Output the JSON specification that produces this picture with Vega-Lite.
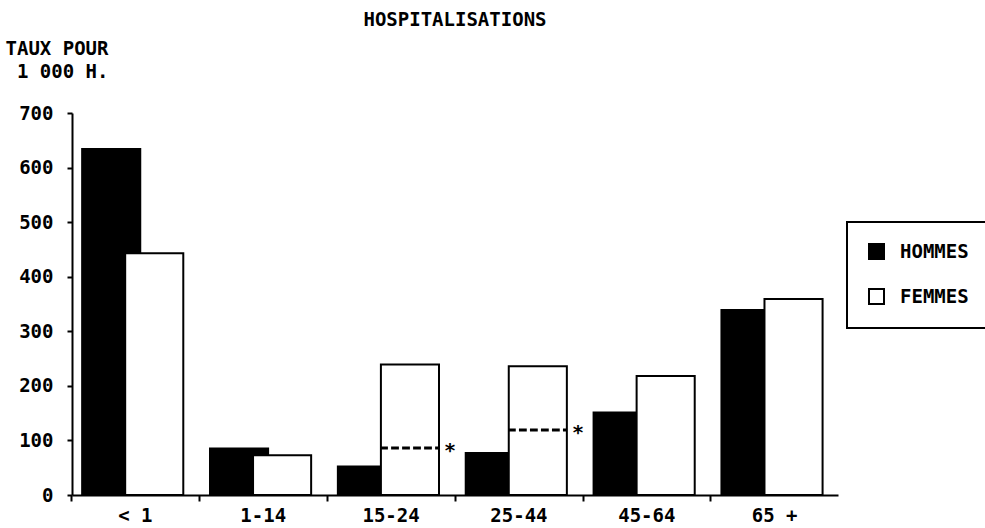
{
  "$schema": "https://vega.github.io/schema/vega-lite/v6.json",
  "autosize": "none",
  "width": 766,
  "height": 382,
  "padding": {"left": 72, "top": 113, "right": 147, "bottom": 33},
  "background": "white",
  "config": {
    "font": "DejaVu Sans Mono",
    "view": {"stroke": null},
    "axis": {"labelFont": "DejaVu Sans Mono", "labelFontWeight": "bold", "labelColor": "black", "labelFontSize": 19, "titleFont": "DejaVu Sans Mono", "titleColor": "black", "domainColor": "black", "tickColor": "black", "grid": false},
    "legend": {"strokeColor": "black", "strokeWidth": 2}
  },
  "title": {"text": "HOSPITALISATIONS", "anchor": "middle", "frame": "group", "font": "DejaVu Sans Mono", "fontSize": 19, "fontWeight": "bold", "color": "black", "offset": 9},
  "datasets": {
    "taux": [
      {"groupe": "< 1", "sexe": "HOMMES", "taux": 634},
      {"groupe": "< 1", "sexe": "FEMMES", "taux": 443},
      {"groupe": "1-14", "sexe": "HOMMES", "taux": 85},
      {"groupe": "1-14", "sexe": "FEMMES", "taux": 73},
      {"groupe": "15-24", "sexe": "HOMMES", "taux": 52},
      {"groupe": "15-24", "sexe": "FEMMES", "taux": 239},
      {"groupe": "25-44", "sexe": "HOMMES", "taux": 77},
      {"groupe": "25-44", "sexe": "FEMMES", "taux": 236},
      {"groupe": "45-64", "sexe": "HOMMES", "taux": 151},
      {"groupe": "45-64", "sexe": "FEMMES", "taux": 218},
      {"groupe": "65 +", "sexe": "HOMMES", "taux": 339},
      {"groupe": "65 +", "sexe": "FEMMES", "taux": 359}
    ],
    "marques": [
      {"groupe": "15-24", "sexe": "FEMMES", "marque": 86},
      {"groupe": "25-44", "sexe": "FEMMES", "marque": 119}
    ]
  },
  "layer": [
    {
      "data": {"name": "taux"},
      "mark": {"type": "bar", "stroke": "black", "strokeWidth": 2, "width": {"band": 1.35}},
      "encoding": {
        "x": {"field": "groupe", "type": "nominal", "sort": ["< 1", "1-14", "15-24", "25-44", "45-64", "65 +"],
          "scale": {"paddingInner": 0.209, "paddingOuter": 0.1},
          "axis": {"title": null, "labelAngle": 0, "bandPosition": -0.13, "ticks": true, "tickSize": 6, "tickWidth": 2, "domainWidth": 2, "labelPadding": 5, "labelBaseline": "top"}},
        "xOffset": {"field": "sexe", "type": "nominal", "sort": ["HOMMES", "FEMMES"], "scale": {"paddingInner": 0, "paddingOuter": 0.175, "align": 1}},
        "y": {"field": "taux", "type": "quantitative",
          "scale": {"domain": [0, 700], "nice": false},
          "axis": {"values": [0, 100, 200, 300, 400, 500, 600, 700], "domainWidth": 2, "tickSize": 5, "tickWidth": 2, "labelPadding": 14,
            "title": ["TAUX POUR", "1 000 H."], "titleAngle": 0, "titleAlign": "right", "titleBaseline": "top",
            "titleX": 36, "titleY": -74, "titleFontSize": 19, "titleFontWeight": "bold", "titleLineHeight": 23}},
        "fill": {"field": "sexe", "type": "nominal", "sort": ["HOMMES", "FEMMES"],
          "scale": {"domain": ["HOMMES", "FEMMES"], "range": ["black", "white"]},
          "legend": {"title": null, "orient": "none", "legendX": 775, "legendY": 109,
            "padding": 20, "rowPadding": 22,
            "symbolType": "square", "symbolSize": 225, "symbolStrokeColor": "black", "symbolStrokeWidth": 2,
            "labelFont": "DejaVu Sans Mono", "labelFontWeight": "bold", "labelFontSize": 19, "labelColor": "black", "labelOffset": 14}}
      }
    },
    {
      "data": {"name": "marques"},
      "mark": {"type": "bar", "fill": null, "stroke": "black", "strokeWidth": 3, "strokeDash": [7, 4], "width": {"band": 1.35}},
      "encoding": {
        "x": {"field": "groupe", "type": "nominal", "sort": ["< 1", "1-14", "15-24", "25-44", "45-64", "65 +"]},
        "xOffset": {"field": "sexe", "type": "nominal", "sort": ["HOMMES", "FEMMES"]},
        "y": {"field": "marque", "type": "quantitative"},
        "y2": {"field": "marque"}
      }
    },
    {
      "data": {"name": "marques"},
      "mark": {"type": "text", "text": "*", "align": "left", "baseline": "middle", "dx": 24, "dy": 3, "fontSize": 20, "fontWeight": "bold", "font": "DejaVu Sans Mono", "color": "black"},
      "encoding": {
        "x": {"field": "groupe", "type": "nominal", "sort": ["< 1", "1-14", "15-24", "25-44", "45-64", "65 +"]},
        "xOffset": {"field": "sexe", "type": "nominal", "sort": ["HOMMES", "FEMMES"]},
        "y": {"field": "marque", "type": "quantitative"}
      }
    }
  ]
}
